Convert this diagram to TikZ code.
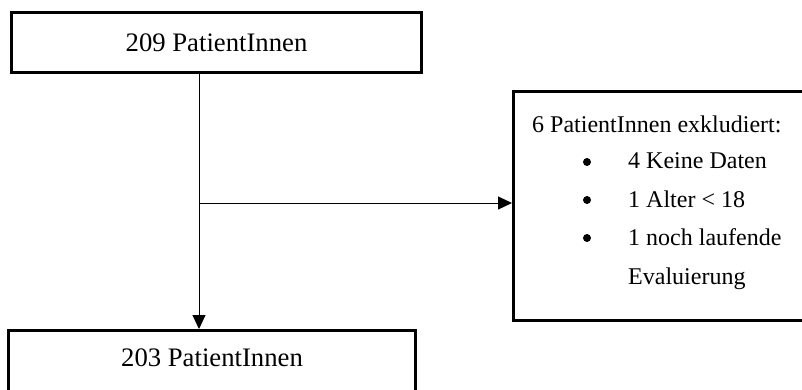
\documentclass[tikz,border=0pt]{standalone}
\usepackage{fontspec}
\setmainfont{Liberation Serif}
\usetikzlibrary{arrows.meta}
\begin{document}
\begin{tikzpicture}[x=1pt,y=-1pt,
  box/.style={draw, line width=3pt, inner sep=0pt, rectangle},
  big/.style={font=\fontsize{26.7}{32}\selectfont},
  small/.style={font=\fontsize{24}{29}\selectfont, inner sep=0pt, anchor=base west},
  bul/.style={circle, fill, inner sep=0pt, minimum size=8pt},
  arr/.style={line width=1pt, -{Triangle[length=14pt,width=13pt]}}]
\useasboundingbox (0,0) rectangle (802,390);
\clip (0,0) rectangle (802,390);
\node[box, big, minimum width=410pt, minimum height=60pt] (top) at (216.5,42.5) {209 PatientInnen};
\node[box, minimum width=407pt, minimum height=70pt] (bot) at (212,365.5) {};
\node[big] (botlabel) at (212,358) {203 PatientInnen};
\node[box, minimum width=297pt, minimum height=229pt] (excl) at (662,206) {};
\node[small] (h) at (532,133) {6 PatientInnen exkludiert:};
\node[bul] (b1) at (587,162) {};
\node[small] (t1) at (628,168) {4 Keine Daten};
\node[bul] (b2) at (587,200) {};
\node[small] (t2) at (628,207) {1 Alter < 18};
\node[bul] (b3) at (587,238) {};
\node[small] (t3) at (628,245) {1 noch laufende};
\node[small] (t4) at (628,284) {Evaluierung};
\coordinate (split) at (199,203);
\draw[arr] (top.south -| split) -- (bot.north -| split);
\draw[arr] (split) -- (excl.west |- split);
\end{tikzpicture}
\end{document}
